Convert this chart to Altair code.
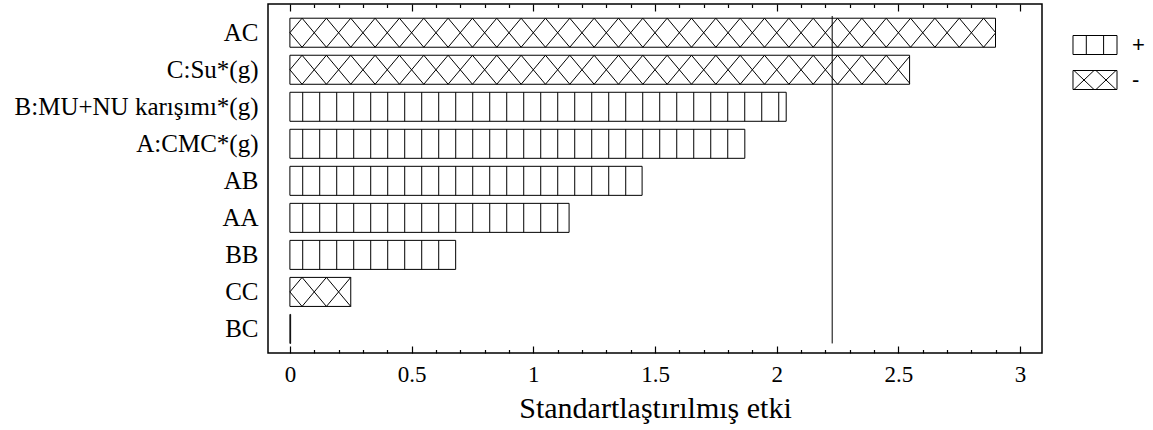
import json
import altair as alt
import pandas as pd

# ---------------- data ----------------
categories = ["AC", "C:Su*(g)", "B:MU+NU karışımı*(g)", "A:CMC*(g)",
              "AB", "AA", "BB", "CC", "BC"]
effects = [2.899, 2.546, 2.039, 1.869, 1.447, 1.147, 0.681, 0.250, 0.003]
signs = ["-", "-", "+", "+", "+", "+", "+", "-", "+"]
critical_value = 2.228
x_tick_labels = [0, 0.5, 1, 1.5, 2, 2.5, 3]
legend_entries = ["+", "-"]

# ---------------- styling constants ----------------
HALF = 0.392          # half bar thickness (row units)
VSTEP = 0.06985       # vertical hatch spacing (x units)
VSTART = 0.0526       # vertical hatch phase
DSTEP = 0.1           # cross-hatch period (x units)
W, H = 774, 349
SERIF = "Liberation Serif"
SANS = "Liberation Sans"

n = len(categories)
bars = pd.DataFrame({
    "cat": categories, "idx": list(range(n)), "effect": effects, "sign": signs,
})
bars["x0"] = 0.0
bars["ytop"] = bars["idx"] - HALF
bars["ybot"] = bars["idx"] + HALF

# vertical hatch lines for "+" bars
vrows = []
for i, (v, s) in enumerate(zip(effects, signs)):
    if s != "+":
        continue
    k = 0
    while True:
        x = VSTART + VSTEP * k
        if x >= v - 0.005:
            break
        vrows.append({"x": x, "x2": x, "y": i - HALF, "y2": i + HALF})
        k += 1
vdf = pd.DataFrame(vrows, columns=["x", "x2", "y", "y2"])


def clip(x1, y1, x2, y2, lo, hi):
    if x2 <= lo or x1 >= hi:
        return None
    t1 = max(0.0, (lo - x1) / (x2 - x1))
    t2 = min(1.0, (hi - x1) / (x2 - x1))
    if t2 <= t1:
        return None
    return (x1 + t1 * (x2 - x1), y1 + t1 * (y2 - y1),
            x1 + t2 * (x2 - x1), y1 + t2 * (y2 - y1))


# cross-hatch diagonals for "-" bars
drows = []
for i, (v, s) in enumerate(zip(effects, signs)):
    if s != "-":
        continue
    k = 0
    while k * DSTEP - DSTEP / 2 < v:
        c = k * DSTEP
        for (ya, yb) in ((i - HALF, i + HALF), (i + HALF, i - HALF)):
            seg = clip(c - DSTEP / 2, ya, c + DSTEP / 2, yb, 0.0, v)
            if seg:
                drows.append({"x": seg[0], "y": seg[1], "x2": seg[2], "y2": seg[3]})
        k += 1
ddf = pd.DataFrame(drows, columns=["x", "y", "x2", "y2"])

crit = pd.DataFrame({"x": [critical_value], "y": [-HALF - 0.06], "y2": [n - 1 + HALF]})

# ---------------- scales ----------------
xscale = alt.Scale(domain=[-0.09, 3.09], nice=False, zero=False)
yscale = alt.Scale(domain=[-0.776, n - 1 + 0.65], reverse=True, nice=False, zero=False)

minor_ticks = [round(0.1 * k, 1) for k in range(31) if k % 5 != 0]


def tick_axis(orient, values, size):
    # inward ticks: an axis moved onto the opposite edge of the frame
    return alt.Axis(orient=orient, offset=-H, values=values,
                    labels=True, labelOpacity=0, labelFontSize=8,
                    domain=False, grid=False, title=None,
                    tickColor="black", tickWidth=1.2, tickSize=size)


label_expr = "[" + ",".join(json.dumps(c, ensure_ascii=False) for c in categories) + "][round(datum.value)]"

bar_layer = alt.Chart(bars).mark_rect(fill="white", stroke="black", strokeWidth=1).encode(
    x=alt.X("x0:Q", scale=xscale,
            axis=alt.Axis(orient="bottom", values=x_tick_labels, format="~g",
                          ticks=False, domain=False, grid=False,
                          labelFont=SERIF, labelFontSize=23, labelColor="black",
                          labelPadding=10,
                          title="Standartlaştırılmış etki", titleFont=SERIF,
                          titleFontSize=30, titleFontWeight="normal",
                          titleColor="black", titlePadding=7)),
    x2="effect:Q",
    y=alt.Y("ytop:Q", scale=yscale,
            axis=alt.Axis(orient="left", values=list(range(n)), labelExpr=label_expr,
                          ticks=False, domain=False, grid=False,
                          labelFont=SERIF, labelFontSize=25, labelColor="black",
                          labelPadding=10, labelOverlap=False, labelFlush=False,
                          labelLimit=400, title=None)),
    y2="ybot:Q",
)

# vertical hatch; its axis gives the major inward ticks on the bottom edge
v_layer = alt.Chart(vdf).mark_rule(color="black", strokeWidth=1).encode(
    x=alt.X("x:Q", scale=xscale, axis=tick_axis("top", x_tick_labels, 7)),
    x2="x2:Q",
    y=alt.Y("y:Q", scale=yscale, axis=None),
    y2="y2:Q",
)

# cross-hatch; its axis gives the major inward ticks on the top edge
d_layer = alt.Chart(ddf).mark_rule(color="black", strokeWidth=1).encode(
    x=alt.X("x:Q", scale=xscale, axis=tick_axis("bottom", x_tick_labels, 7)),
    x2="x2:Q",
    y=alt.Y("y:Q", scale=yscale, axis=None),
    y2="y2:Q",
)

# critical value line; its axis gives the minor inward ticks on the bottom edge
crit_layer = alt.Chart(crit).mark_rule(color="black", strokeWidth=1).encode(
    x=alt.X("x:Q", scale=xscale, axis=tick_axis("top", minor_ticks, 3.5)),
    y=alt.Y("y:Q", scale=yscale, axis=None),
    y2="y2:Q",
)

# legend with hatched symbols (custom paths); axis gives minor ticks on top edge
R = 9.5
plus_path = ("M-2.316,-1H2.316V1H-2.316Z"
             "M-0.916,-1V1M0.905,-1V1")
minus_path = ("M-2.316,-1H2.316V1H-2.316Z"
              "M-2.211,-1L-0.105,1M-2.211,1L-0.105,-1"
              "M0.105,-1L2.211,1M0.105,1L2.211,-1")

legend_layer = alt.Chart(bars).mark_point(opacity=0, color="black").encode(
    x=alt.X("effect:Q", scale=xscale, axis=tick_axis("bottom", minor_ticks, 3.5)),
    y=alt.Y("idx:Q", scale=yscale, axis=None),
    shape=alt.Shape("sign:N",
                    scale=alt.Scale(domain=legend_entries, range=[plus_path, minus_path]),
                    legend=alt.Legend(title=None, orient="none", legendX=816, legendY=30,
                                      padding=0, symbolSize=R * R * 4,
                                      symbolStrokeColor="black", symbolFillColor="white",
                                      symbolStrokeWidth=1, symbolOpacity=1,
                                      labelFont=SANS, labelFontSize=22,
                                      labelColor="black", labelOffset=26,
                                      rowPadding=11)),
)

chart = alt.layer(bar_layer, v_layer, d_layer, crit_layer, legend_layer).resolve_axis(
    x="independent", y="independent"
).properties(
    width=W, height=H,
    autosize=alt.AutoSizeParams(type="none"),
    padding={"left": 268, "top": 4, "right": 111, "bottom": 77},
    background="white",
).configure_view(stroke="black", strokeWidth=1.5)

chart.save("out.html", embed_options={"renderer": "svg", "actions": False})
